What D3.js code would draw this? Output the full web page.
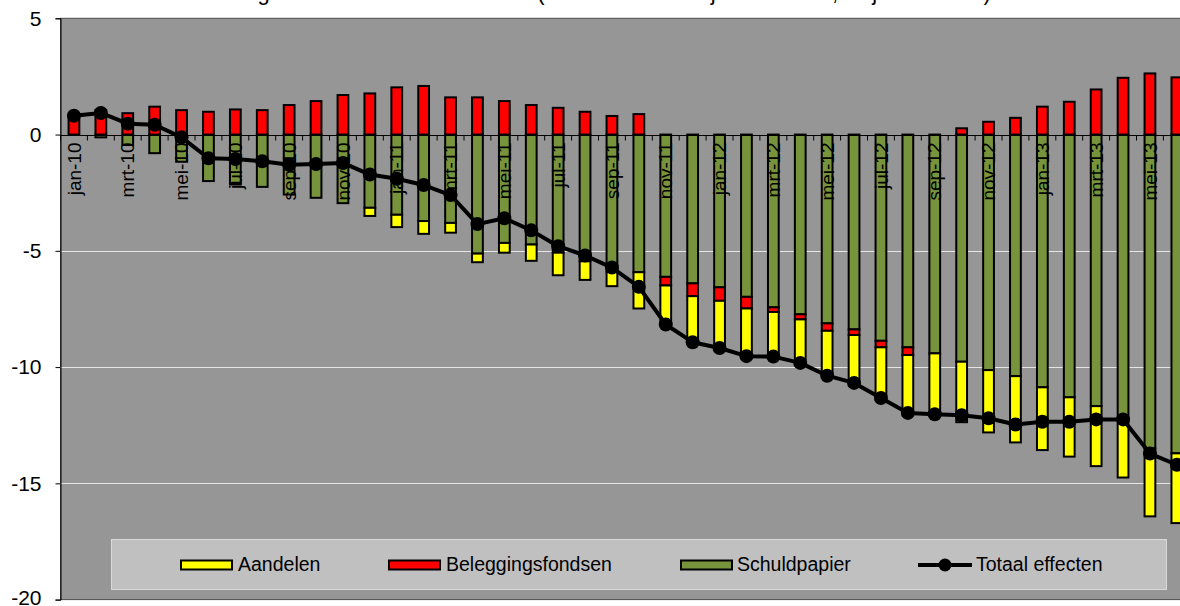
<!DOCTYPE html>
<html>
<head>
<meta charset="utf-8">
<script src="https://cdn.jsdelivr.net/npm/d3@7"></script>
<style>
  html, body { margin: 0; padding: 0; background: #ffffff; }
  svg { display: block; font-family: "Liberation Sans", Arial, sans-serif; }
</style>
</head>
<body>
<svg id="chart" width="1180" height="606"></svg>
<script>
// Monthly categories, jan-10 through jun-13
const categories = [
  "jan-10","feb-10","mrt-10","apr-10","mei-10","jun-10","jul-10","aug-10","sep-10","okt-10","nov-10","dec-10",
  "jan-11","feb-11","mrt-11","apr-11","mei-11","jun-11","jul-11","aug-11","sep-11","okt-11","nov-11","dec-11",
  "jan-12","feb-12","mrt-12","apr-12","mei-12","jun-12","jul-12","aug-12","sep-12","okt-12","nov-12","dec-12",
  "jan-13","feb-13","mrt-13","apr-13","mei-13","jun-13"
];

// Cumulative flows per instrument (billion euro)
const schuldpapier = [
  0, -0.12, -0.45, -0.80, -1.17, -2.00, -2.10, -2.25, -2.58, -2.72, -2.95, -3.15,
  -3.45, -3.72, -3.80, -5.12, -4.66, -4.73, -5.08, -5.45, -5.90, -5.92, -6.12, -6.40,
  -6.57, -6.98, -7.43, -7.73, -8.12, -8.38, -8.87, -9.15, -9.41, -9.77, -10.13, -10.39,
  -10.87, -11.30, -11.68, -12.20, -13.50, -13.71
];
const beleggingsfondsen = [
  0.80, 1.05, 0.92, 1.20, 1.05, 0.98, 1.08, 1.05, 1.27, 1.44, 1.70, 1.77,
  2.03, 2.09, 1.60, 1.60, 1.44, 1.27, 1.15, 0.98, 0.80, 0.88, -0.37, -0.55,
  -0.58, -0.50, -0.20, -0.22, -0.32, -0.24, -0.28, -0.33, 0, 0.27, 0.55, 0.72,
  1.20, 1.41, 1.94, 2.44, 2.63, 2.46
];
const aandelen = [
  0, 0, 0, 0, 0, 0, -0.05, 0, 0, 0, 0, -0.35,
  -0.53, -0.55, -0.42, -0.37, -0.42, -0.70, -0.97, -0.80, -0.62, -1.56, -1.60, -1.95,
  -1.97, -2.00, -1.86, -1.83, -1.85, -2.00, -2.08, -2.45, -2.55, -2.60, -2.68, -2.85,
  -2.70, -2.55, -2.58, -2.55, -2.92, -3.00
];
const totaalEffecten = [
  0.81, 0.93, 0.47, 0.42, -0.12, -1.02, -1.05, -1.15, -1.30, -1.27, -1.22, -1.72,
  -1.90, -2.17, -2.60, -3.85, -3.60, -4.12, -4.80, -5.20, -5.72, -6.55, -8.17, -8.93,
  -9.18, -9.53, -9.55, -9.82, -10.37, -10.68, -11.33, -11.97, -12.03, -12.07, -12.20, -12.47,
  -12.35, -12.35, -12.25, -12.25, -13.72, -14.20
];

const yTicks = [5, 0, -5, -10, -15, -20];
const seriesNames = ["Aandelen", "Beleggingsfondsen", "Schuldpapier", "Totaal effecten"];
const seriesColors = { Aandelen: "#ffff00", Beleggingsfondsen: "#ff0000", Schuldpapier: "#77933c" };
const titleText = "Ontwikkeling effectenbezit huishoudens (cumulatief vanaf januari 2010, miljarden euro)";

const svg = d3.select("#chart");
const W = 1180, H = 606;
const plot = { left: 60.5, right: 1190.3, top: 18.3, bottom: 599.6 };

const x = d3.scaleBand()
  .domain(categories)
  .range([plot.left, plot.right])
  .paddingInner(0.6)
  .paddingOuter(0.3);
const y = d3.scaleLinear().domain([-20, 5]).range([plot.bottom, plot.top]);
const step = x.step();
const cx = c => x(c) + x.bandwidth() / 2;

svg.append("rect").attr("width", W).attr("height", H).attr("fill", "#ffffff");

// Title (sits above the visible area)
svg.append("text")
  .attr("x", 145).attr("y", 0)
  .attr("font-size", 22).attr("fill", "#000")
  .text(titleText);

// Plot background
svg.append("rect")
  .attr("x", plot.left).attr("y", plot.top)
  .attr("width", plot.right - plot.left).attr("height", plot.bottom - plot.top)
  .attr("fill", "#969696").attr("stroke", "#4d4d4d").attr("stroke-width", 1);

// Horizontal gridlines
svg.append("g").selectAll("line")
  .data(yTicks.filter(t => t !== 0 && t !== 5 && t !== -20))
  .join("line")
  .attr("x1", plot.left).attr("x2", plot.right)
  .attr("y1", d => Math.round(y(d)) + 0.5).attr("y2", d => Math.round(y(d)) + 0.5)
  .attr("stroke", "#e6e6e6").attr("stroke-width", 1);

// Y axis (plain hyphen for negatives)
const yAxis = svg.append("g")
  .attr("transform", `translate(${plot.left},0)`)
  .call(d3.axisLeft(y).tickValues(yTicks).tickSize(5).tickPadding(14).tickFormat(d => String(d)));
yAxis.select(".domain").attr("stroke", "#000");
yAxis.selectAll(".tick line").attr("stroke", "#000");
yAxis.selectAll(".tick text")
  .attr("font-size", 21).attr("fill", "#000")
  .attr("font-family", "'Liberation Sans', Arial, sans-serif")
  .attr("dy", d => d === -20 ? "0.22em" : "0.32em");

// Stacked bars: positives up, negatives down from zero
const rows = categories.map((c, i) => ({
  cat: c,
  Schuldpapier: schuldpapier[i],
  Beleggingsfondsen: beleggingsfondsen[i],
  Aandelen: aandelen[i]
}));
const stacked = d3.stack()
  .keys(["Schuldpapier", "Beleggingsfondsen", "Aandelen"])
  .offset(d3.stackOffsetDiverging)(rows);

const barG = svg.append("g");
stacked.forEach(layer => {
  barG.append("g").selectAll("rect")
    .data(layer.filter(d => d[0] !== d[1]))
    .join("rect")
    .attr("x", d => x(d.data.cat))
    .attr("width", x.bandwidth())
    .attr("y", d => y(Math.max(d[0], d[1])))
    .attr("height", d => Math.abs(y(d[0]) - y(d[1])))
    .attr("fill", seriesColors[layer.key])
    .attr("stroke", "#000").attr("stroke-width", 2);
});

// X axis at zero with ticks at category boundaries
const y0 = Math.round(y(0)) + 0.5;
svg.append("line")
  .attr("x1", plot.left).attr("x2", plot.right)
  .attr("y1", y0).attr("y2", y0)
  .attr("stroke", "#000").attr("stroke-width", 1);
svg.append("g").selectAll("line")
  .data(d3.range(categories.length + 1))
  .join("line")
  .attr("x1", k => plot.left + k * step).attr("x2", k => plot.left + k * step)
  .attr("y1", y0).attr("y2", y0 + 5)
  .attr("stroke", "#000").attr("stroke-width", 1);

// Category labels, every second month
svg.append("g").selectAll("text")
  .data(categories.filter((c, i) => i % 2 === 0))
  .join("text")
  .attr("transform", c => `translate(${cx(c)},${y0 + 7}) rotate(-90)`)
  .attr("text-anchor", "end")
  .attr("dy", "0.35em")
  .attr("font-size", 19).attr("fill", "#000")
  .text(c => c);

// Total line with markers
const line = d3.line().x((d, i) => cx(categories[i])).y(d => y(d));
svg.append("path")
  .datum(totaalEffecten)
  .attr("d", line)
  .attr("fill", "none").attr("stroke", "#000").attr("stroke-width", 4)
  .attr("stroke-linejoin", "round");
svg.append("g").selectAll("circle")
  .data(totaalEffecten)
  .join("circle")
  .attr("cx", (d, i) => cx(categories[i]))
  .attr("cy", d => y(d))
  .attr("r", 7).attr("fill", "#000");

// Legend
const legend = svg.append("g");
legend.append("rect")
  .attr("x", 111.5).attr("y", 539.5).attr("width", 1055).attr("height", 50)
  .attr("fill", "#c0c0c0").attr("stroke", "#d9d9d9").attr("stroke-width", 1);
const legendX = [181, 389, 681, 918];
const legendTextX = [238, 446, 737, 976];
seriesNames.forEach((name, i) => {
  if (i < 3) {
    legend.append("rect")
      .attr("x", legendX[i]).attr("y", 560.5).attr("width", 51).attr("height", 9)
      .attr("fill", seriesColors[name]).attr("stroke", "#000").attr("stroke-width", 2);
  } else {
    legend.append("line")
      .attr("x1", legendX[i]).attr("x2", legendX[i] + 54)
      .attr("y1", 565).attr("y2", 565)
      .attr("stroke", "#000").attr("stroke-width", 4);
    legend.append("circle")
      .attr("cx", legendX[i] + 27).attr("cy", 565).attr("r", 6.5).attr("fill", "#000");
  }
  legend.append("text")
    .attr("x", legendTextX[i]).attr("y", 571)
    .attr("font-size", 19.5).attr("fill", "#000")
    .text(name);
});
</script>
</body>
</html>
